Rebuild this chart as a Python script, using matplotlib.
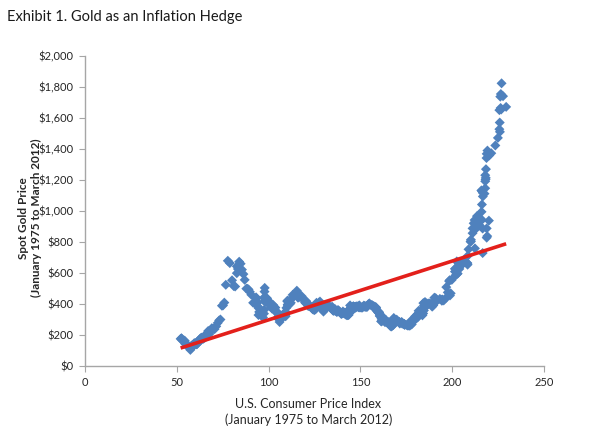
import numpy as np
import matplotlib
matplotlib.use("Agg")
import matplotlib.pyplot as plt
from matplotlib.ticker import FuncFormatter

plt.rcParams['font.family'] = ['Lato', 'DejaVu Sans']

title = "Exhibit 1. Gold as an Inflation Hedge"
x_label = "U.S. Consumer Price Index\n(January 1975 to March 2012)"
y_label = "Spot Gold Price\n(January 1975 to March 2012)"

# U.S. CPI, monthly, Jan 1975 - Mar 2012
cpi = [
    52.1, 52.5, 52.7, 52.9, 53.2, 53.6, 54.2, 54.3, 54.6, 54.9, 55.3, 55.5,
    55.6, 55.8, 55.9, 56.1, 56.5, 56.8, 57.1, 57.4, 57.6, 57.9, 58.0, 58.2,
    58.5, 59.1, 59.5, 60.0, 60.3, 60.7, 61.0, 61.2, 61.4, 61.6, 61.9, 62.1,
    62.5, 62.9, 63.4, 63.9, 64.5, 65.2, 65.7, 66.0, 66.5, 67.1, 67.4, 67.7,
    68.3, 69.1, 69.8, 70.6, 71.5, 72.3, 73.1, 73.8, 74.6, 75.2, 75.9, 76.7,
    77.8, 78.9, 80.1, 81.0, 81.8, 82.7, 82.7, 83.3, 84.0, 84.8, 85.5, 86.3,
    87.0, 87.9, 88.5, 89.1, 89.8, 90.6, 91.6, 92.3, 93.2, 93.4, 93.7, 94.0,
    94.3, 94.6, 94.5, 94.9, 95.8, 97.0, 97.5, 97.7, 97.9, 98.2, 98.0, 97.6,
    97.8, 97.9, 97.9, 98.6, 99.2, 99.5, 99.9, 100.2, 100.7, 101.0, 101.2, 101.3,
    101.9, 102.4, 102.6, 103.1, 103.4, 103.7, 104.1, 104.5, 105.0, 105.3, 105.3, 105.3,
    105.5, 106.0, 106.4, 106.9, 107.3, 107.6, 107.8, 108.0, 108.3, 108.7, 109.0, 109.3,
    109.6, 109.3, 108.8, 108.6, 108.9, 109.5, 109.5, 109.7, 110.2, 110.3, 110.4, 110.5,
    111.2, 111.6, 112.1, 112.7, 113.1, 113.5, 113.8, 114.4, 115.0, 115.3, 115.4, 115.4,
    115.7, 116.0, 116.5, 117.1, 117.5, 118.0, 118.5, 119.0, 119.8, 120.2, 120.3, 120.5,
    121.1, 121.6, 122.3, 123.1, 123.8, 124.1, 124.4, 124.6, 125.0, 125.6, 125.9, 126.1,
    127.4, 128.0, 128.7, 128.9, 129.2, 129.9, 130.4, 131.6, 132.7, 133.5, 133.8, 133.8,
    134.6, 134.8, 135.0, 135.2, 135.6, 136.0, 136.2, 136.6, 137.2, 137.4, 137.8, 137.9,
    138.1, 138.6, 139.3, 139.5, 139.7, 140.2, 140.5, 140.9, 141.3, 141.8, 142.0, 141.9,
    142.6, 143.1, 143.6, 144.0, 144.2, 144.4, 144.4, 144.8, 145.1, 145.7, 145.8, 145.8,
    146.2, 146.7, 147.2, 147.4, 147.5, 148.0, 148.4, 149.0, 149.4, 149.5, 149.7, 149.7,
    150.3, 150.9, 151.4, 151.9, 152.2, 152.5, 152.5, 152.9, 153.2, 153.7, 153.6, 153.5,
    154.4, 154.9, 155.7, 156.3, 156.6, 156.7, 157.0, 157.3, 157.8, 158.3, 158.6, 158.6,
    159.1, 159.6, 160.0, 160.2, 160.1, 160.3, 160.5, 160.8, 161.2, 161.6, 161.5, 161.3,
    161.6, 161.9, 162.2, 162.5, 162.8, 163.0, 163.2, 163.4, 163.6, 164.0, 164.0, 163.9,
    164.3, 164.5, 165.0, 166.2, 166.2, 166.2, 166.7, 167.1, 167.9, 168.2, 168.3, 168.3,
    168.8, 169.8, 171.2, 171.3, 171.5, 172.4, 172.8, 172.8, 173.7, 174.0, 174.1, 174.0,
    175.1, 175.8, 176.2, 176.9, 177.7, 178.0, 177.5, 177.5, 178.3, 177.7, 177.4, 176.7,
    177.1, 177.8, 178.8, 179.8, 179.8, 179.9, 180.1, 180.7, 181.0, 181.3, 181.3, 180.9,
    181.7, 183.1, 184.2, 183.8, 183.5, 183.7, 183.9, 184.6, 185.2, 185.0, 184.5, 184.3,
    185.2, 186.2, 187.4, 188.0, 189.1, 189.7, 189.4, 189.5, 189.9, 190.9, 191.0, 190.3,
    190.7, 191.8, 193.3, 194.6, 194.4, 194.5, 195.4, 196.4, 198.8, 199.2, 197.6, 196.8,
    198.3, 198.7, 199.8, 201.5, 202.5, 202.9, 203.5, 203.9, 202.9, 201.8, 201.5, 201.8,
    202.4, 203.5, 205.4, 206.7, 207.9, 208.4, 208.3, 207.9, 208.5, 208.9, 210.2, 210.0,
    211.1, 211.7, 213.5, 214.8, 216.6, 218.8, 220.0, 219.1, 218.8, 216.6, 212.4, 210.2,
    211.1, 212.2, 212.7, 213.2, 213.9, 215.7, 215.4, 215.8, 216.0, 216.2, 216.3, 215.9,
    216.7, 216.7, 217.6, 218.0, 218.2, 218.0, 218.0, 218.3, 218.4, 218.7, 218.8, 219.2,
    220.2, 221.3, 223.5, 224.9, 226.0, 225.7, 225.9, 226.5, 226.9, 226.4, 226.2, 225.7,
    226.7, 227.7, 229.4,
]

# Spot gold price (USD/oz), monthly, Jan 1975 - Mar 2012
gold = [
    176, 180, 178, 170, 167, 164, 165, 163, 144, 142, 143, 139,
    131, 131, 133, 128, 128, 125, 118, 105, 114, 117, 131, 133,
    132, 136, 148, 149, 147, 141, 143, 145, 150, 159, 161, 161,
    173, 179, 184, 175, 177, 183, 188, 206, 212, 227, 206, 208,
    227, 245, 242, 239, 257, 279, 295, 301, 390, 392, 410, 525,
    680, 665, 554, 517, 514, 600, 644, 627, 674, 661, 623, 594,
    557, 500, 499, 495, 480, 461, 409, 410, 444, 437, 413, 410,
    384, 374, 330, 350, 334, 314, 339, 364, 436, 423, 415, 444,
    481, 505, 420, 432, 438, 413, 422, 416, 412, 394, 382, 388,
    371, 386, 394, 381, 377, 378, 348, 348, 341, 340, 341, 320,
    303, 285, 304, 324, 316, 317, 317, 330, 324, 326, 325, 322,
    345, 339, 346, 340, 342, 343, 348, 376, 418, 423, 398, 391,
    408, 401, 409, 438, 460, 450, 450, 461, 460, 466, 467, 487,
    477, 442, 444, 452, 451, 452, 437, 431, 413, 406, 420, 419,
    404, 388, 390, 384, 371, 367, 375, 365, 362, 367, 394, 409,
    410, 417, 394, 374, 369, 352, 362, 395, 389, 380, 381, 378,
    384, 364, 363, 358, 357, 366, 368, 356, 349, 359, 360, 361,
    354, 354, 345, 339, 337, 341, 353, 343, 345, 344, 335, 334,
    329, 329, 330, 342, 367, 372, 392, 379, 355, 364, 374, 383,
    387, 382, 384, 377, 381, 386, 385, 380, 392, 389, 384, 379,
    379, 377, 382, 391, 385, 387, 386, 383, 383, 383, 386, 387,
    400, 405, 396, 393, 392, 385, 383, 387, 383, 381, 378, 369,
    355, 347, 352, 344, 344, 341, 324, 324, 323, 325, 306, 289,
    289, 297, 296, 308, 299, 292, 293, 284, 289, 296, 294, 291,
    287, 287, 286, 282, 277, 261, 256, 257, 265, 311, 293, 283,
    285, 300, 286, 280, 275, 285, 281, 274, 273, 270, 266, 272,
    266, 262, 263, 261, 272, 270, 268, 273, 283, 283, 276, 276,
    282, 296, 294, 303, 314, 322, 314, 310, 319, 317, 319, 333,
    357, 359, 340, 328, 355, 356, 351, 360, 379, 379, 389, 407,
    414, 405, 406, 403, 384, 392, 398, 400, 406, 420, 439, 442,
    424, 423, 434, 429, 422, 430, 424, 438, 456, 470, 476, 510,
    549, 555, 557, 610, 676, 596, 634, 627, 598, 586, 628, 629,
    631, 665, 655, 679, 667, 655, 665, 665, 712, 754, 806, 803,
    889, 922, 968, 909, 888, 889, 939, 839, 829, 730, 760, 816,
    858, 943, 925, 890, 928, 945, 934, 949, 996, 1043, 1127, 1134,
    1118, 1095, 1113, 1148, 1205, 1232, 1193, 1215, 1271, 1343, 1370, 1391,
    1360, 1374, 1424, 1473, 1512, 1529, 1572, 1756, 1825, 1666, 1739, 1652,
    1656, 1742, 1673,
]

x_ticks = [0, 50, 100, 150, 200, 250]
y_ticks = [0, 200, 400, 600, 800, 1000, 1200, 1400, 1600, 1800, 2000]

x = np.array(cpi)
y = np.array(gold)

fig = plt.figure(figsize=(5.9, 4.46), dpi=100)
ax = fig.add_axes([0.144, 0.179, 0.778, 0.695])

ax.scatter(x, y, marker='D', s=26, color='#4F81BD', edgecolors='none', zorder=2)

# linear trend line
k, b = np.polyfit(x, y, 1)
xs = np.array([x.min(), x.max()])
ax.plot(xs, k * xs + b, color='#E3201B', lw=2.6, zorder=3, solid_capstyle='butt')

ax.set_xlim(0, 250)
ax.set_ylim(0, 2000)
ax.set_xticks(x_ticks)
ax.set_yticks(y_ticks)
ax.yaxis.set_major_formatter(FuncFormatter(lambda v, p: f"${v:,.0f}"))

for s in ['top', 'right']:
    ax.spines[s].set_visible(False)
for s in ['left', 'bottom']:
    ax.spines[s].set_color('#A6A6A6')
    ax.spines[s].set_linewidth(1.0)
ax.tick_params(axis='both', direction='out', length=4, color='#A6A6A6',
               labelsize=8, labelcolor='#262626', pad=4)

ax.set_xlabel(x_label, fontsize=9, color='#262626', linespacing=1.3)
ax.xaxis.set_label_coords(0.487, -0.103, transform=ax.transAxes)
ax.xaxis.label.set_va('top')
ax.set_ylabel(y_label, fontsize=8.5, fontweight='bold', color='#262626', linespacing=1.25)
ax.yaxis.set_label_coords(-0.12, 0.478, transform=ax.transAxes)
ax.yaxis.label.set_va('center')

fig.text(0.012, 0.962, title, fontsize=10.5, color='#1a1a1a', ha='left', va='center')

fig.savefig('out.png', dpi=100)
